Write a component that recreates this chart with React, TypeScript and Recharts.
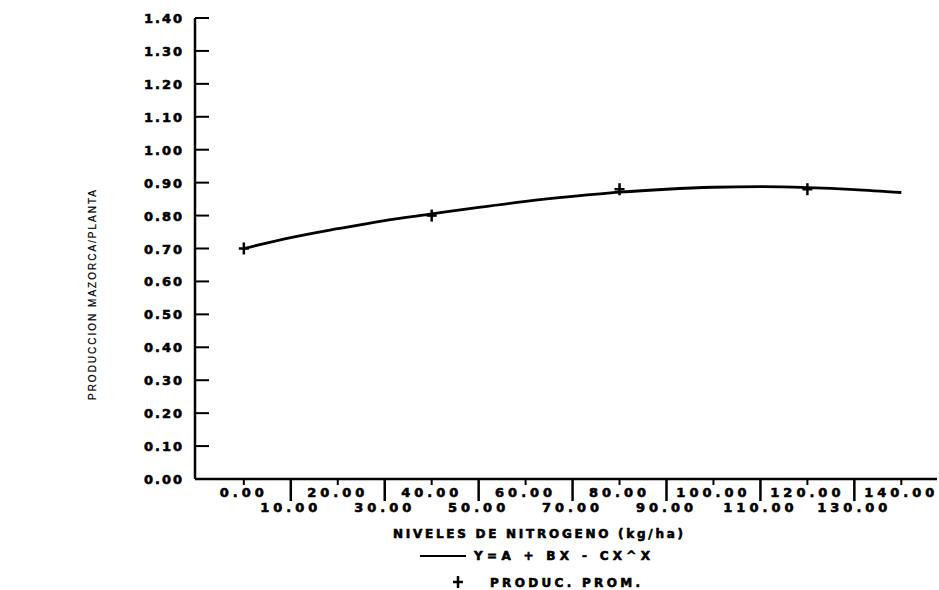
import { ComposedChart, Line, Scatter, XAxis, YAxis } from 'recharts';

// curva ajustada Y = A + BX - CX^2
const curveX = [0, 10, 20, 30, 40, 50, 60, 70, 80, 90, 100, 110, 120, 130, 140];
const curveY = [0.70, 0.733, 0.76, 0.785, 0.805, 0.825, 0.843, 0.858, 0.871, 0.88, 0.886, 0.888, 0.885, 0.879, 0.87];

// producción promedio observada
const obsX = [0, 40, 80, 120];
const obsY = [0.70, 0.80, 0.88, 0.88];

const xTicks = [0, 10, 20, 30, 40, 50, 60, 70, 80, 90, 100, 110, 120, 130, 140];
const yTicks = [0, 0.1, 0.2, 0.3, 0.4, 0.5, 0.6, 0.7, 0.8, 0.9, 1.0, 1.1, 1.2, 1.3, 1.4];

const curve = curveX.map((x, i) => ({ x, y: curveY[i] }));
const obs = obsX.map((x, i) => ({ x, y: obsY[i] }));

const INK = '#000';
const FONT = '"DejaVu Sans", sans-serif';
// texto grueso tipo impresora
const heavy = {
  fontFamily: FONT,
  fontWeight: 'bold' as const,
  fill: INK,
  stroke: INK,
  strokeWidth: 0.6,
};

function XTick({ x, y, payload }: any) {
  const v = payload.value as number;
  const odd = Math.round(v / 10) % 2 === 1;
  return (
    <g>
      <line x1={x} x2={x} y1={y} y2={y + (odd ? 22 : 6)} stroke={INK} strokeWidth={odd ? 2.5 : 2} />
      <text x={x} y={y + (odd ? 33 : 18)} textAnchor="middle" fontSize={13} letterSpacing={4} {...heavy}>
        {v.toFixed(2)}
      </text>
    </g>
  );
}

function YTick({ x, y, payload }: any) {
  const v = payload.value as number;
  return (
    <g>
      <line x1={x} x2={x + 14} y1={y} y2={y} stroke={INK} strokeWidth={2} />
      <text x={x - 11} y={y + 5} textAnchor="end" fontSize={13} letterSpacing={2} {...heavy}>
        {v.toFixed(2)}
      </text>
    </g>
  );
}

function Plus({ cx, cy }: any) {
  return (
    <g stroke={INK} strokeWidth={2.5}>
      <line x1={cx - 5} x2={cx + 5} y1={cy} y2={cy} />
      <line x1={cx} x2={cx} y1={cy - 6} y2={cy + 6} />
    </g>
  );
}

// título del eje x y leyenda debajo
function XTitle() {
  return (
    <g>
      <text x={393} y={538} fontSize={12} textLength={290} lengthAdjust="spacing" {...heavy}>
        NIVELES DE NITROGENO (kg/ha)
      </text>
      <line x1={420} x2={466} y1={556} y2={556} stroke={INK} strokeWidth={2} />
      <text x={474} y={560} fontSize={12} textLength={176} lengthAdjust="spacing" {...heavy}>
        Y=A + BX - CX^X
      </text>
      <Plus cx={458} cy={582} />
      <text x={490} y={587} fontSize={12} textLength={150} lengthAdjust="spacing" {...heavy}>
        PRODUC. PROM.
      </text>
    </g>
  );
}

function YTitle() {
  return (
    <text
      x={93}
      y={295}
      transform="rotate(-90 93 295)"
      textAnchor="middle"
      dominantBaseline="middle"
      fontFamily='"Liberation Sans", sans-serif'
      fontSize={10}
      textLength={210}
      lengthAdjust="spacing"
      fill={INK}
      stroke={INK}
      strokeWidth={0.2}
    >
      PRODUCCION MAZORCA/PLANTA
    </text>
  );
}

export default function App() {
  return (
    <div style={{ position: 'absolute', left: 0, top: 0, background: '#fff' }}>
      <ComposedChart width={939} height={590} margin={{ top: 18, right: 2, bottom: 0, left: 0 }}>
        <XAxis
          type="number"
          dataKey="x"
          domain={[-10.4, 147.6]}
          ticks={xTicks}
          interval={0}
          allowDataOverflow
          height={111}
          tickSize={0}
          tickMargin={0}
          tickLine={false}
          axisLine={{ stroke: INK, strokeWidth: 2.5 }}
          tick={<XTick />}
          label={() => <XTitle />}
        />
        <YAxis
          type="number"
          dataKey="y"
          domain={[0, 1.4]}
          ticks={yTicks}
          interval={0}
          width={195}
          tickSize={0}
          tickMargin={0}
          tickLine={false}
          axisLine={{ stroke: INK, strokeWidth: 2.5 }}
          tick={<YTick />}
          label={() => <YTitle />}
        />
        <Line
          data={curve}
          dataKey="y"
          type="monotone"
          stroke={INK}
          strokeWidth={2.8}
          dot={false}
          activeDot={false}
          isAnimationActive={false}
        />
        <Scatter data={obs} dataKey="y" shape={<Plus />} isAnimationActive={false} />
      </ComposedChart>
    </div>
  );
}
